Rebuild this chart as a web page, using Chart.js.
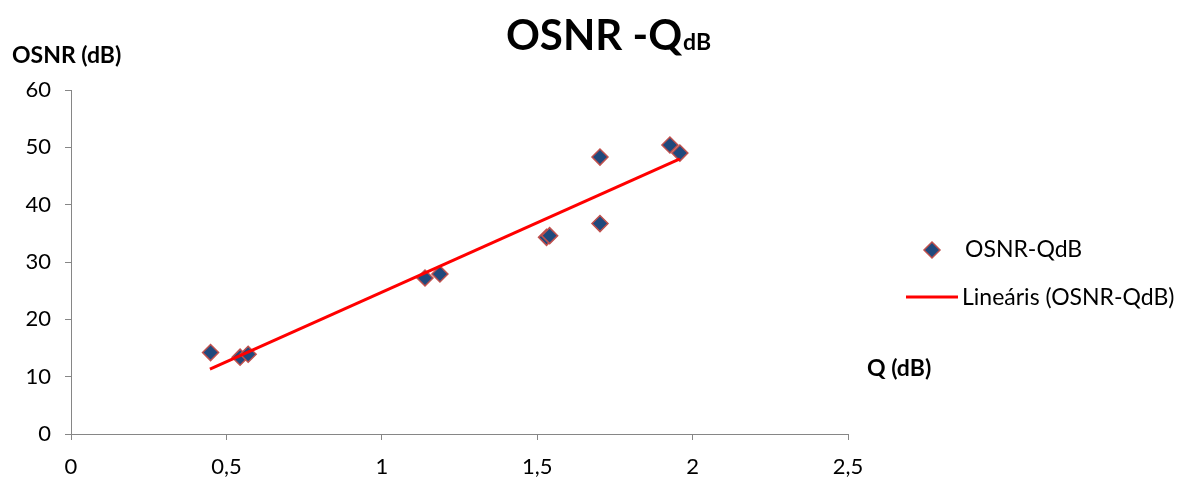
<!DOCTYPE html>
<html><head><meta charset="utf-8">
<script src="https://cdn.jsdelivr.net/npm/chart.js@4"></script>
<style>html,body{margin:0;padding:0;background:#fff}#wrap{width:1186px;height:481px}</style>
</head><body><div id="wrap"><canvas id="c" width="1186" height="481"></canvas></div>
<script>
const qValues = [0.449, 0.544, 0.570, 1.139, 1.187, 1.530, 1.540, 1.702, 1.702, 1.927, 1.959];
const osnrValues = [14.2, 13.4, 13.9, 27.2, 27.9, 34.3, 34.6, 36.7, 48.3, 50.4, 49.0];
const trendQ = [0.447, 1.959];
const trendOsnr = [11.3, 48.0];
const xTicks = [0, 0.5, 1, 1.5, 2, 2.5];
const yTicks = [0, 10, 20, 30, 40, 50, 60];
const seriesName = 'OSNR-QdB';
const trendName = 'Lineáris (OSNR-QdB)';
const FONT = 'Lato, "Open Sans", sans-serif';

const pts = qValues.map((q, i) => ({x: q, y: osnrValues[i]}));
const trend = trendQ.map((q, i) => ({x: q, y: trendOsnr[i]}));

const overlay = {
  id: 'overlay',
  afterDraw(chart) {
    const ctx = chart.ctx;
    ctx.save();
    ctx.fillStyle = '#000';
    ctx.textBaseline = 'alphabetic';
    // Title
    const t1 = 'OSNR -Q';
    ctx.font = 'bold 42px ' + FONT;
    const w1 = ctx.measureText(t1).width;
    ctx.font = 'bold 23px ' + FONT;
    const w2 = ctx.measureText('dB').width;
    const startX = 608 - (w1 + w2) / 2;
    ctx.font = 'bold 42px ' + FONT;
    ctx.textAlign = 'left';
    ctx.fillText(t1, startX, 50);
    ctx.font = 'bold 23px ' + FONT;
    ctx.fillText('dB', startX + w1 + 1, 50);
    // Axis titles
    ctx.font = 'bold 23px ' + FONT;
    ctx.fillText('OSNR (dB)', 12, 63);
    ctx.fillText('Q (dB)', 867, 376);
    // Legend
    const ds0 = chart.data.datasets[0];
    ctx.beginPath();
    ctx.moveTo(932, 242); ctx.lineTo(940, 250); ctx.lineTo(932, 258); ctx.lineTo(924, 250); ctx.closePath();
    ctx.fillStyle = ds0.backgroundColor;
    ctx.fill();
    ctx.lineWidth = 1.5;
    ctx.strokeStyle = ds0.borderColor;
    ctx.stroke();
    ctx.fillStyle = '#000';
    ctx.font = '23px ' + FONT;
    ctx.textBaseline = 'middle';
    ctx.fillText(seriesName, 965, 250);
    ctx.beginPath();
    ctx.moveTo(906, 297); ctx.lineTo(958, 297);
    ctx.strokeStyle = '#ff0000'; ctx.lineWidth = 3;
    ctx.stroke();
    ctx.fillText(trendName, 962, 298);
    ctx.restore();
  }
};

new Chart(document.getElementById('c'), {
  type: 'scatter',
  data: {
    datasets: [
      {label: seriesName, data: pts, pointStyle: 'rectRot', pointRadius: 8, pointHoverRadius: 8,
       backgroundColor: '#1f497d', borderColor: '#c0504d', borderWidth: 1.5, order: 2},
      {label: trendName, data: trend, type: 'line', showLine: true, borderColor: '#ff0000', borderWidth: 3,
       pointRadius: 0, fill: false, order: 1}
    ]
  },
  options: {
    responsive: false, animation: false,
    layout: {padding: {top: 90, right: 338, left: 0, bottom: 0}},
    plugins: {legend: {display: false}, title: {display: false}, tooltip: {enabled: false}},
    scales: {
      x: {
        type: 'linear', min: 0, max: 2.5,
        afterBuildTicks: s => { s.ticks = xTicks.map(v => ({value: v})); },
        afterFit: s => { s.height = 47; },
        border: {color: '#868686', width: 1},
        grid: {drawOnChartArea: false, drawTicks: true, tickLength: 6, color: '#868686'},
        ticks: {color: '#000', font: {family: FONT, size: 22}, padding: 14,
                callback: v => String(v).replace('.', ',')}
      },
      y: {
        type: 'linear', min: 0, max: 60,
        afterBuildTicks: s => { s.ticks = yTicks.map(v => ({value: v})); },
        afterFit: s => { s.width = 71; },
        border: {color: '#868686', width: 1},
        grid: {drawOnChartArea: false, drawTicks: true, tickLength: 6, color: '#868686'},
        ticks: {color: '#000', font: {family: FONT, size: 22}, padding: 14}
      }
    }
  },
  plugins: [overlay]
});
</script></body></html>
